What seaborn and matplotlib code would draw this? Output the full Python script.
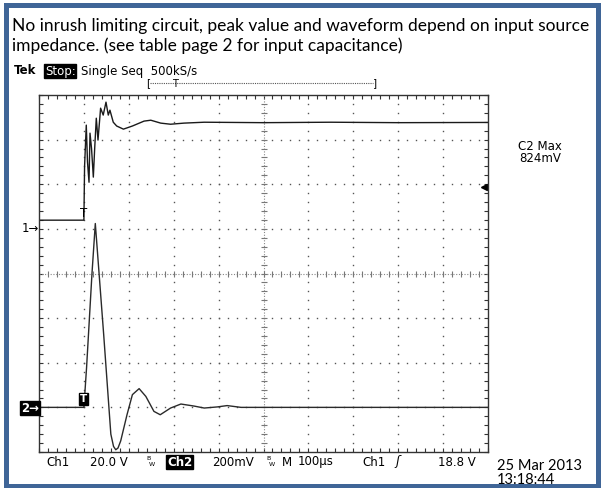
import numpy as np
import matplotlib
matplotlib.use("Agg")
import matplotlib.pyplot as plt
import seaborn as sns
from matplotlib.patches import Rectangle
from matplotlib.lines import Line2D

# ---------------- data ----------------
# Ch1: input voltage, volts (20 V/div); time in microseconds (100 us/div, trigger at 0)
ch1_t = [-100, 0, 1.5, 5.3, 8, 11.4, 13.6, 17, 21, 24, 27.6, 31.4, 37.2, 43, 49.2,
         54.3, 58, 65.4, 73, 88, 108, 134, 149, 171, 193, 223, 268, 400, 550, 700, 900]
ch1_v = [3.9, 3.9, 28, 46.5, 30, 20.9, 42.9, 36, 23.2, 36, 49.6, 39.8, 54.1, 51, 56.8,
         51, 53.2, 47.8, 46.1, 44.7, 46.1, 48.3, 48.7, 47.4, 46.9, 47.4, 47.8, 47.6, 47.8, 47.6, 47.7]
# Ch2: inrush current probe, millivolts (200 mV/div)
ch2_t = [-100, 0, 6, 12, 18, 25.4, 44, 60, 66, 71, 76, 82, 96, 108, 123, 138, 156, 170,
         193, 216, 245, 268, 297, 319, 350, 900]
ch2_mv = [0, 0, 180, 390, 600, 824, 328, -120, -175, -190, -182, -150, -33, 57, 84, 49, -18, -33,
          -3, 15, 6, -3, 2, 8, 0, 0]

ch1_scale, ch1_offset = 20.0, 1.0      # V/div, divisions
ch2_scale, ch2_offset = 200.0, -3.0    # mV/div, divisions
trig_level = 18.8

caption = ["No inrush limiting circuit, peak value and waveform depend on input source",
           "impedance. (see table page 2 for input capacitance)"]

# ---------------- figure ----------------
W, H = 603, 488
fig = plt.figure(figsize=(W / 100, H / 100), dpi=100)
fig.patch.set_facecolor("white")
SCOPE = "DejaVu Sans"
CAP = "Lato"


def fx(x):
    return x / W


def fy(y):
    return 1 - y / H


# blue frame
fig.patches.append(Rectangle((fx(5.5), fy(486)), fx(597.5) - fx(5.5), fy(5.5) - fy(486),
                             transform=fig.transFigure, fill=False, edgecolor="#3f6597",
                             linewidth=3.6, zorder=0))

# caption
fig.text(fx(12), fy(26), caption[0], family=CAP, fontsize=12.5, va="center", ha="left")
fig.text(fx(12), fy(46), caption[1], family=CAP, fontsize=12.5, va="center", ha="left")

# scope header
fig.text(fx(14), fy(71), "Tek", family=SCOPE, fontsize=8.5, weight="bold", va="center")
fig.text(fx(45), fy(71), "Stop:", family=SCOPE, fontsize=8.5, color="white",
         va="center", bbox=dict(boxstyle="square,pad=0.05", fc="black", ec="black"))
fig.text(fx(81), fy(71), "Single Seq  500kS/s", family=SCOPE, fontsize=8.5, va="center")

# record position bar
fig.text(fx(148), fy(83), "[", family=SCOPE, fontsize=7.5, va="center", ha="center")
fig.text(fx(375), fy(83), "]", family=SCOPE, fontsize=7.5, va="center", ha="center")
fig.add_artist(Line2D([fx(150), fx(373)], [fy(83), fy(83)], transform=fig.transFigure,
                      color="#555555", lw=0.8, ls=(0, (1, 1))))
fig.text(fx(175), fy(84), "T", family=SCOPE, fontsize=7, va="center", ha="center")

# ---------------- graticule axes ----------------
ax = fig.add_axes([fx(39), fy(452), fx(488) - fx(39), fy(95) - fy(452)])
ax.set_xlim(-100, 900)
ax.set_ylim(-4, 4)
for s in ax.spines.values():
    s.set_color("#333333")
    s.set_linewidth(1.0)
ax.set_xticks(np.arange(-100, 901, 20))
ax.set_yticks(np.arange(-4, 4.001, 0.2))
ax.tick_params(direction="in", length=3, width=0.8, color="#333333", top=True, right=True,
               labelbottom=False, labelleft=False)

yy = np.arange(-4, 4.001, 0.2)
xx = np.arange(-100, 900.1, 20)
for xv in range(0, 900, 100):
    if xv == 400:
        continue
    ax.plot([xv] * len(yy), yy, ls="none", marker="s", ms=1.0, mew=0, color="#555555")
for yv in [-3, -2, -1, 1, 2, 3]:
    ax.plot(xx, [yv] * len(xx), ls="none", marker="s", ms=1.0, mew=0, color="#555555")
# centre crosshair
ax.plot([-100, 900], [0, 0], color="#888888", lw=0.8, ls=(0, (1, 1.5)))
ax.plot([400, 400], [-4, 4], color="#888888", lw=0.8, ls=(0, (1, 1.5)))
ax.plot(xx, [0] * len(xx), ls="none", marker="|", ms=4, mew=0.8, color="#777777")
ax.plot([400] * len(yy), yy, ls="none", marker="_", ms=4, mew=0.8, color="#777777")

# traces
ch1_y = ch1_offset + np.array(ch1_v) / ch1_scale
ch2_y = ch2_offset + np.array(ch2_mv) / ch2_scale
sns.lineplot(x=ch1_t, y=ch1_y, ax=ax, color="#1a1a1a", lw=1.0, estimator=None, sort=False)
sns.lineplot(x=ch2_t, y=ch2_y, ax=ax, color="#2a2a2a", lw=1.0, estimator=None, sort=False)
ax.set_xlabel("")
ax.set_ylabel("")

# trigger markers
ax.text(0, ch1_offset + ch1_v[0] / ch1_scale, "T", family=SCOPE, fontsize=8.5,
        ha="center", va="bottom")
ax.text(-1, ch2_offset + 0.07, "T", family=SCOPE, fontsize=7.5, weight="bold", color="white",
        ha="center", va="bottom", bbox=dict(boxstyle="square,pad=0.1", fc="black", ec="black"))
ax.plot([890], [ch1_offset + trig_level / ch1_scale], marker="<", ms=5, color="black",
        clip_on=False)

# channel ground markers
fig.text(fx(22), fy(229), "1\u2192", family=SCOPE, fontsize=8.5, va="center")
fig.text(fx(21), fy(408), "2\u2192", family=SCOPE, fontsize=8.5, va="center", color="white",
         weight="bold", bbox=dict(boxstyle="square,pad=0.05", fc="black", ec="black"))

# measurement readout
fig.text(fx(540), fy(146), "C2 Max", family=SCOPE, fontsize=8.5, ha="center", va="center")
fig.text(fx(540), fy(158), "824mV", family=SCOPE, fontsize=8.5, ha="center", va="center")

# bottom status line
by = 462
fig.text(fx(46), fy(by), "Ch1", family=SCOPE, fontsize=8.5, va="center")
fig.text(fx(90), fy(by), "20.0 V", family=SCOPE, fontsize=8.5, va="center")
fig.text(fx(146), fy(by - 3), "B", family=SCOPE, fontsize=4.5, va="center")
fig.text(fx(149), fy(by + 2), "W", family=SCOPE, fontsize=4.5, va="center")
fig.text(fx(167), fy(by), "Ch2", family=SCOPE, fontsize=8.5, weight="bold", color="white",
         va="center", bbox=dict(boxstyle="square,pad=0.05", fc="black", ec="black"))
fig.text(fx(212), fy(by), "200mV", family=SCOPE, fontsize=8.5, va="center")
fig.text(fx(266), fy(by - 3), "B", family=SCOPE, fontsize=4.5, va="center")
fig.text(fx(269), fy(by + 2), "W", family=SCOPE, fontsize=4.5, va="center")
fig.text(fx(282), fy(by), "M", family=SCOPE, fontsize=8.5, va="center")
fig.text(fx(298), fy(by), "100\u00b5s", family=SCOPE, fontsize=8.5, va="center")
fig.text(fx(362), fy(by), "Ch1", family=SCOPE, fontsize=8.5, va="center")
fig.text(fx(395), fy(by), "\u0283", family=SCOPE, fontsize=9, va="center", style="italic")
fig.text(fx(438), fy(by), "18.8 V", family=SCOPE, fontsize=8.5, va="center")
fig.text(fx(497), fy(466), "25 Mar 2013", family=CAP, fontsize=10.5, va="center")
fig.text(fx(497), fy(480), "13:18:44", family=CAP, fontsize=10.5, va="center")

fig.savefig("out.png", dpi=100, facecolor="white")
